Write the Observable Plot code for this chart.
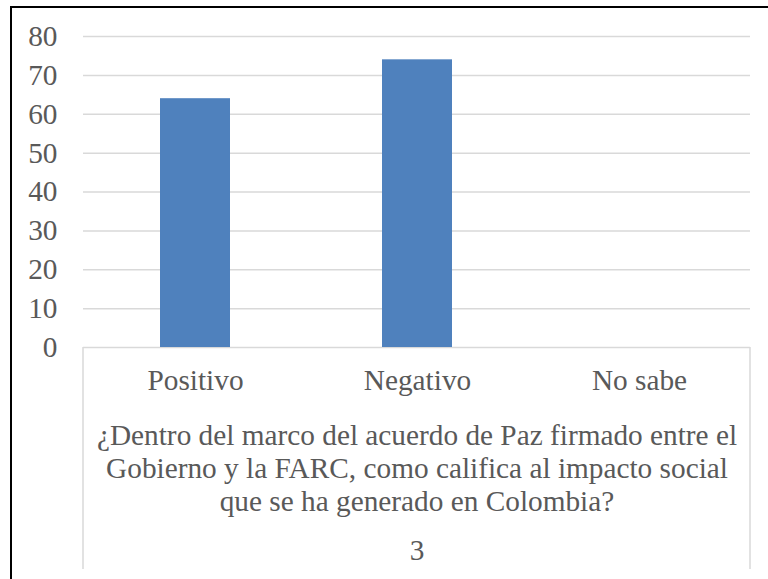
<!DOCTYPE html>
<html>
<head>
<meta charset="utf-8">
<script src="https://cdn.jsdelivr.net/npm/d3@7"></script>
<script src="https://cdn.jsdelivr.net/npm/@observablehq/plot@0.6"></script>
<style>
  html, body { margin: 0; padding: 0; background: #fff; overflow: hidden; }
  #wrap { position: relative; width: 768px; height: 579px; overflow: hidden; }
  #border { position: absolute; left: 10px; top: 6px; width: 800px; height: 640px; border: 2px solid #000; box-sizing: border-box; pointer-events: none; }
  #chart { position: absolute; left: 0; top: 0; }
</style>
</head>
<body>
<div id="wrap">
  <div id="chart"></div>
  <div id="border"></div>
</div>
<script>
const categories = ["Positivo", "Negativo", "No sabe"];
const values = [64, 74, 0];
const yTicks = [0, 10, 20, 30, 40, 50, 60, 70, 80];
const groupLabel = "¿Dentro del marco del acuerdo de Paz firmado entre el\nGobierno y la FARC, como califica al impacto social\nque se ha generado en Colombia?";
const groupNumber = "3";

const data = categories.map((c, i) => ({category: c, value: values[i]}));

const FONT = "'Liberation Serif', 'Times New Roman', serif";
const TEXT = "#595959";
const FS = 29.3;
const W = 768, H = 579;

const chart = Plot.plot({
  width: W,
  height: H,
  marginLeft: 83,
  marginRight: 18,
  marginTop: 36,
  marginBottom: 232,
  style: {fontFamily: FONT, color: TEXT, background: "transparent", overflow: "visible"},
  x: {domain: categories, padding: 0, label: null},
  y: {domain: [0, 80], ticks: yTicks, label: null},
  marks: [
    Plot.gridY(yTicks, {stroke: "#d9d9d9", strokeOpacity: 1, strokeWidth: 1.5}),
    Plot.barY(data, {x: "category", y: "value", fill: "#4f81bd", insetLeft: 76, insetRight: 76}),
    Plot.axisY({ticks: yTicks, tickSize: 0, tickPadding: 26, fontSize: FS, fill: TEXT, fontFamily: FONT, label: null}),
    Plot.axisX({tickSize: 0, tickPadding: 22, fontSize: FS, fill: TEXT, fontFamily: FONT, label: null}),
    Plot.text([groupLabel], {text: d => d, frameAnchor: "bottom", lineAnchor: "top", dy: 74, lineHeight: 33 / FS, fontSize: FS, fill: TEXT, fontFamily: FONT}),
    Plot.text([groupNumber], {text: d => d, frameAnchor: "bottom", lineAnchor: "top", dy: 192, fontSize: FS, fill: TEXT, fontFamily: FONT})
  ]
});

document.getElementById("chart").appendChild(chart);

// category box (multi-level axis outline) derived from the scales
const [x0, x1] = chart.scale("x").range;
const yZero = chart.scale("y").apply(0);
const svg = d3.select(chart);
svg.append("path")
  .attr("d", `M${x0},${yZero}V${H - 10}M${x1},${yZero}V${H - 10}`)
  .attr("stroke", "#d9d9d9")
  .attr("stroke-width", 1.5)
  .attr("fill", "none");
</script>
</body>
</html>
